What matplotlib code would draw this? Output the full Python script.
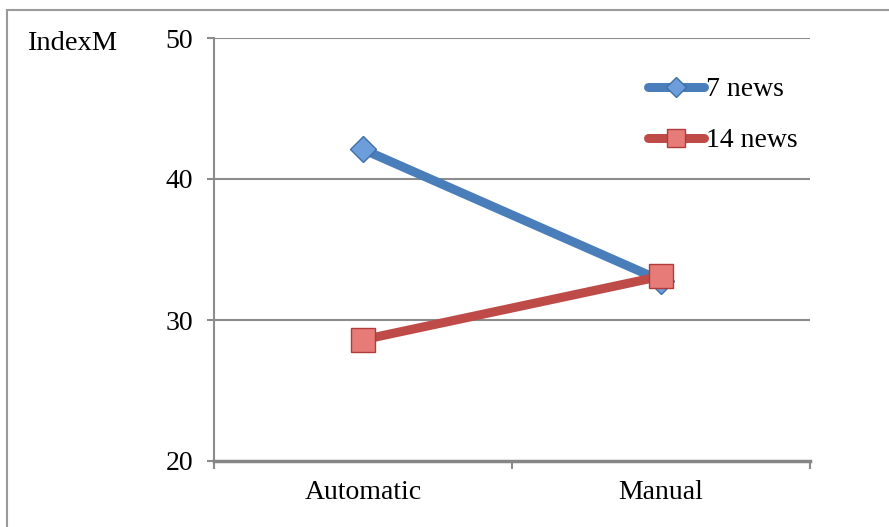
import numpy as np
import matplotlib
matplotlib.use('Agg')
import matplotlib.pyplot as plt
from matplotlib.patches import Rectangle

categories = ['Automatic', 'Manual']
news7 = [42.1, 32.8]
news14 = [28.6, 33.1]
yticks = [20, 30, 40, 50]

plt.rcParams['font.family'] = ['Liberation Serif', 'DejaVu Serif']

fig = plt.figure(figsize=(8.89, 5.27), dpi=100)
ax = fig.add_axes([214/889, 66/527, 596/889, 423/527])

x = np.arange(len(categories)) + 0.5
grid_c = '#8c8c8c'

ax.plot(x, news7, color='#4a7ebb', lw=6.5, solid_capstyle='butt',
        marker='D', ms=13, mfc='#6e9ddb', mec='#3f6fa8', mew=1, label='7 news', zorder=3)
ax.plot(x, news14, color='#be4b48', lw=6.5, solid_capstyle='butt',
        marker='s', ms=17, mfc='#e77b78', mec='#b03c39', mew=1, label='14 news', zorder=4)

ax.set_xlim(0, 2)
ax.set_ylim(20, 50)
ax.set_yticks(yticks)
ax.set_xticks([0, 1, 2])
ax.set_xticklabels([])
ax.set_xticks(x, minor=True)
ax.set_xticklabels(categories, minor=True)

for yv in yticks[1:]:
    ax.axhline(yv, color=grid_c, lw=1.5, zorder=1)

for s in ['top', 'right']:
    ax.spines[s].set_visible(False)
ax.spines['left'].set_color(grid_c)
ax.spines['left'].set_linewidth(1.5)
ax.spines['bottom'].set_color('#868686')
ax.spines['bottom'].set_linewidth(2.5)

ax.tick_params(axis='y', direction='out', length=5, width=1.5, color=grid_c,
               labelsize=20, pad=10)
ax.tick_params(axis='x', which='major', direction='out', length=6, width=1.5, color=grid_c)
ax.tick_params(axis='x', which='minor', length=0, labelsize=20, pad=14)

fig.text(27/889, 1 - 50/527, 'IndexM', fontsize=20.5, va='baseline', ha='left')

leg = ax.legend(loc='upper left', bbox_to_anchor=(648/889, 1 - 77/527), bbox_transform=fig.transFigure,
                frameon=False, fontsize=20, handlelength=2.0, handletextpad=0.1,
                labelspacing=0.92, borderpad=0, borderaxespad=0)
for h in leg.legend_handles:
    h.set_markersize(h.get_markersize() * 0.8)
    h.set_solid_capstyle('round')

fig.patches.append(Rectangle((7/889, -0.1), 1.2, 1.1 - 10/527, transform=fig.transFigure,
                             fill=False, edgecolor='#9a9a9a', lw=1.5))

fig.savefig('out.png', dpi=100)
